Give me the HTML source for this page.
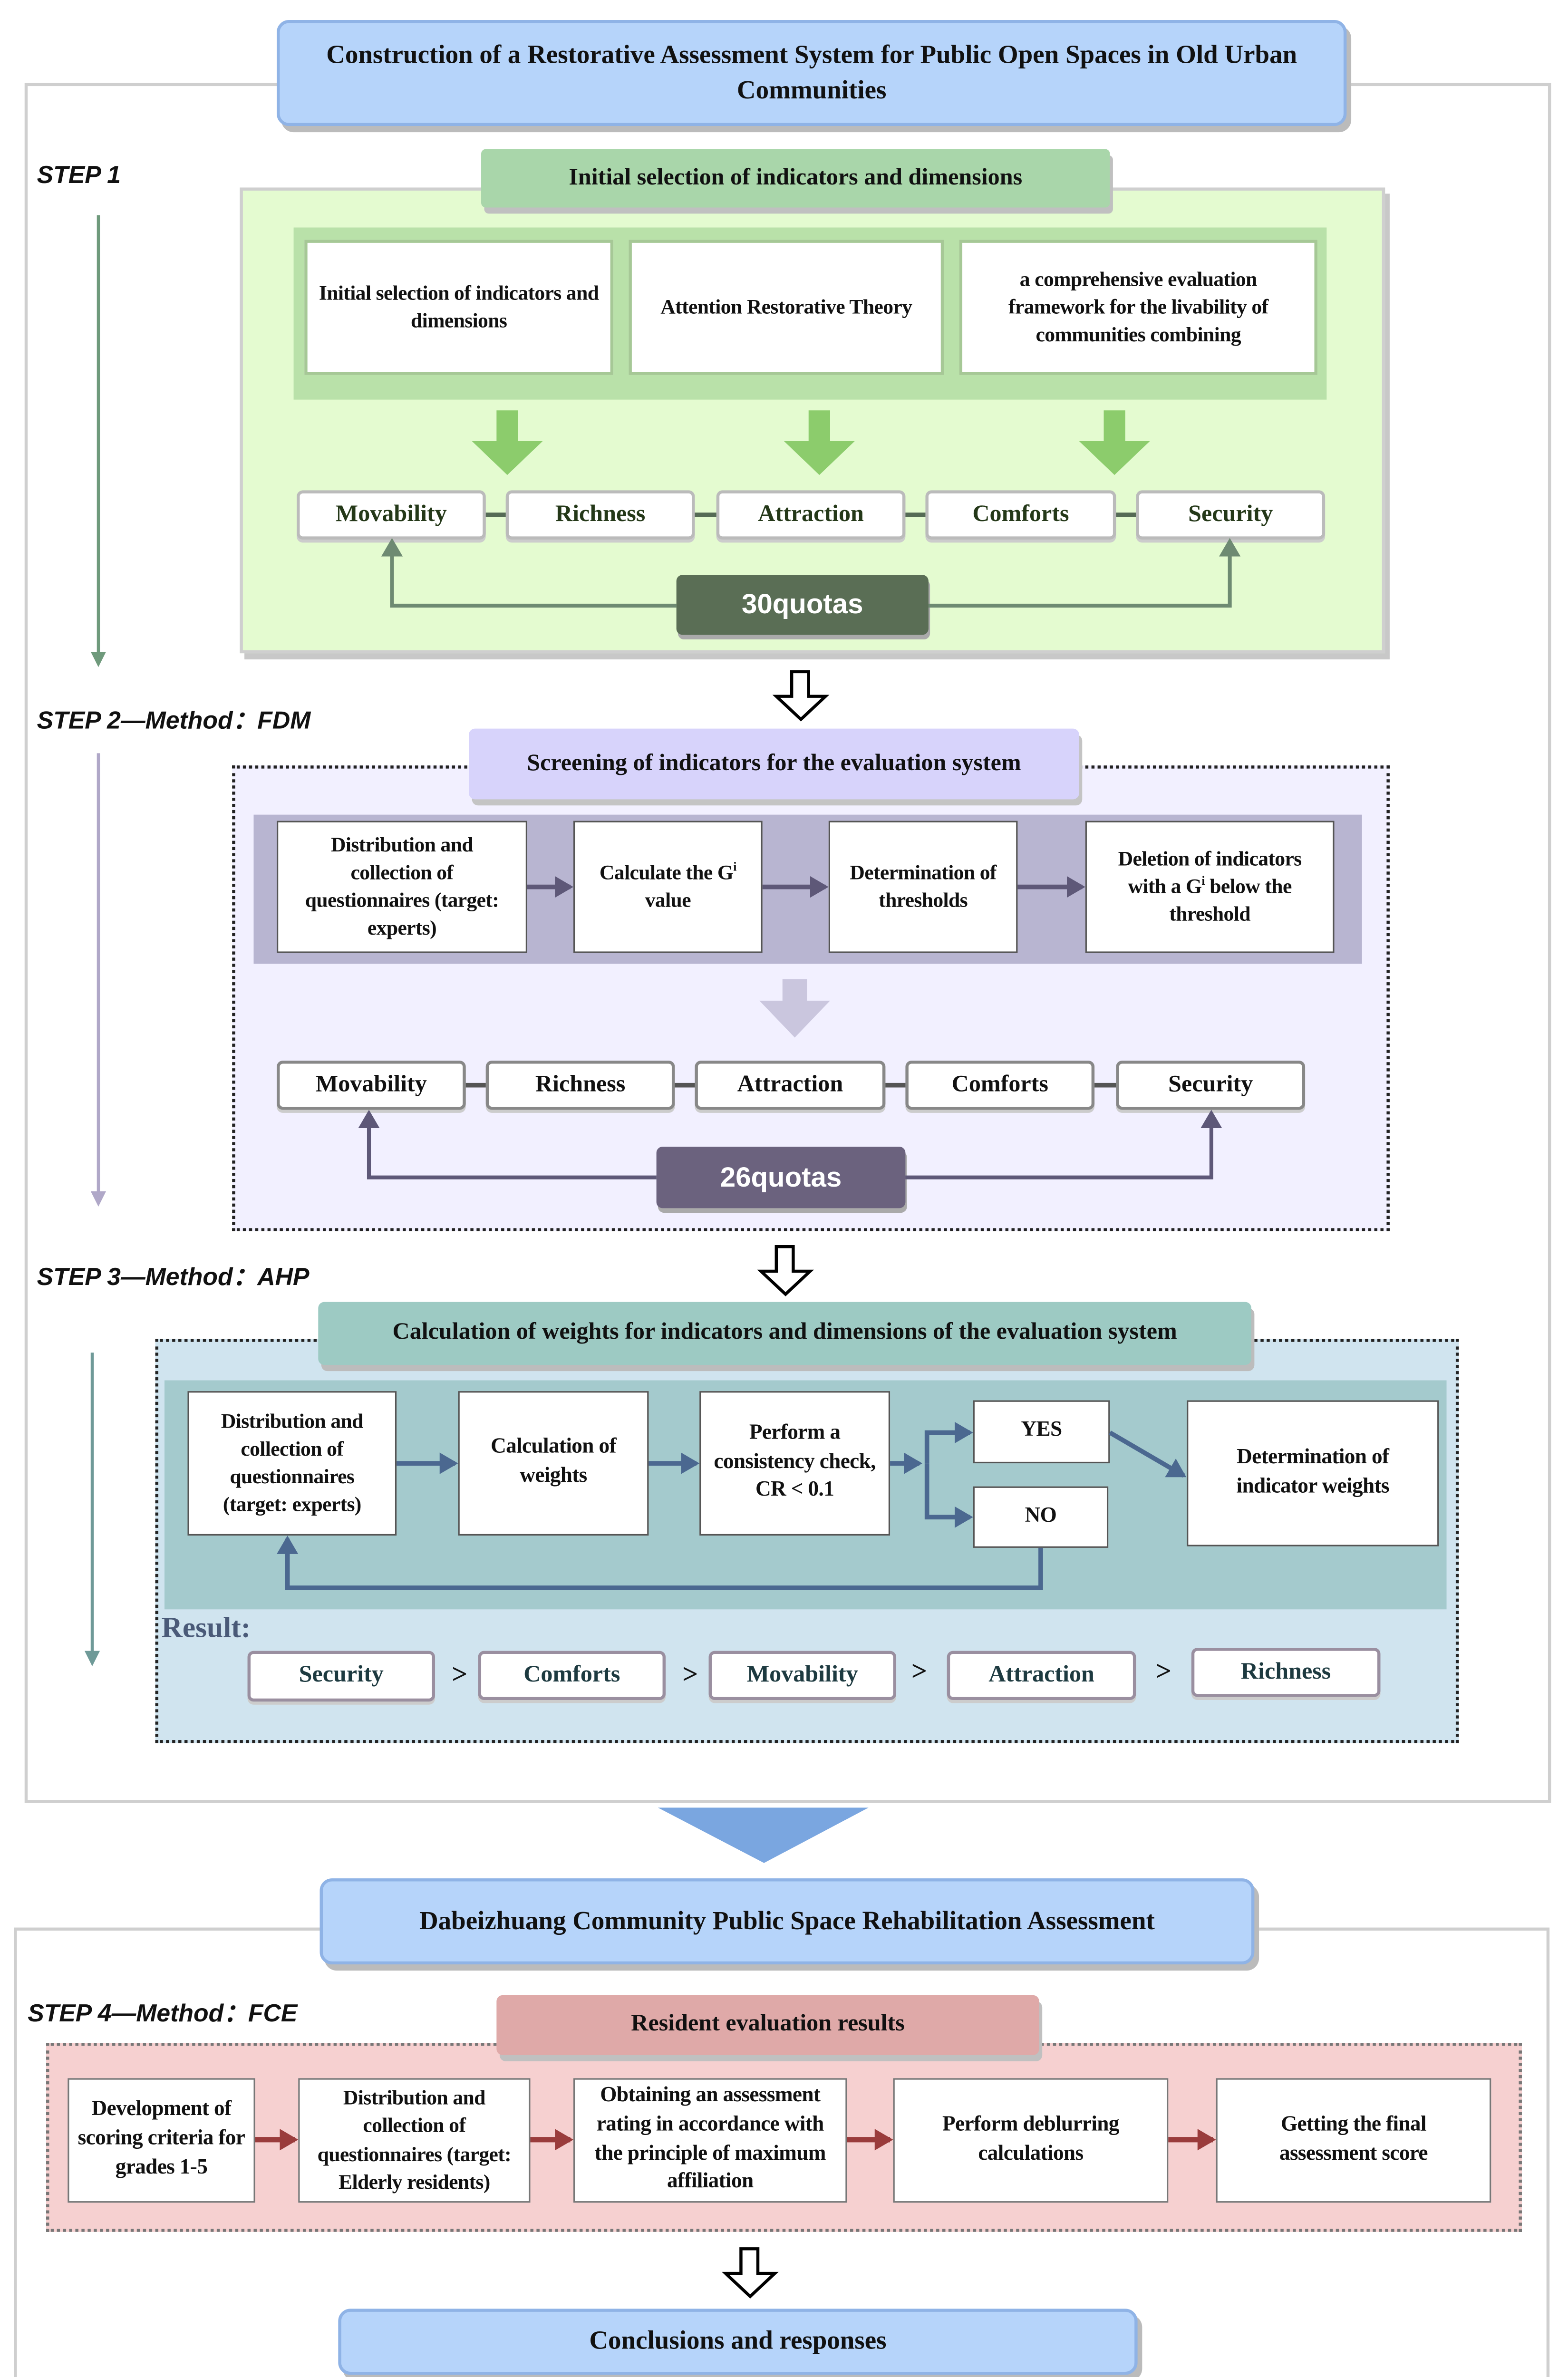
<!DOCTYPE html>
<html><head><meta charset="utf-8"><style>
html{margin:0;padding:0;width:3298px;height:5073px;overflow:hidden;background:#fff;}
body{margin:0;padding:0;width:3298px;height:5073px;overflow:hidden;position:relative;background:#fff;}
#w{position:absolute;left:0;top:0;width:1020px;height:1560px;overflow:hidden;transform:scale(3.2333,3.2333);transform-origin:0 0;}
.a{position:absolute;box-sizing:border-box;}
.b{position:absolute;box-sizing:border-box;display:flex;align-items:center;justify-content:center;text-align:center;font-family:"Liberation Serif",serif;font-weight:bold;color:#111;line-height:1.35;}
.s{font-family:"Liberation Sans",sans-serif;font-weight:bold;font-style:italic;font-size:16px;position:absolute;color:#111;}
.w{background:#fff;font-size:13.5px;letter-spacing:-0.2px;}
.d{background:#fff;border:2px solid #bbb;border-radius:4px;font-size:15.5px;box-shadow:0 2px 0 #ccc;}
sup{font-size:8px;line-height:0;}
</style></head><body><div id="w">
<div class="a" style="left:16px;top:54px;width:993px;height:1119px;border:2px solid #cfcfcf;"></div>
<div class="a" style="left:9px;top:1254px;width:999px;height:304px;border:2px solid #cfcfcf;"></div>

<div class="b" style="left:180px;top:13px;width:696px;height:69px;background:#b6d4fa;border:2px solid #8fb3e6;border-radius:8px;box-shadow:3px 4px 0 #bbb;font-size:17px;padding:0 20px;">Construction of a Restorative Assessment System for Public Open Spaces in Old Urban Communities</div>

<div class="s" style="left:24px;top:106px;">STEP 1</div>
<div class="a" style="left:156px;top:122px;width:745px;height:303px;background:#e4fbd0;border:2px solid #cfcfcf;box-shadow:3px 4px 0 #c8c8c8;"></div>
<div class="b" style="left:313px;top:97px;width:409px;height:38px;background:#a9d6aa;border-radius:3px;box-shadow:2px 4px 0 #c0c0c0;font-size:15.5px;">Initial selection of indicators and dimensions</div>
<div class="a" style="left:191px;top:148px;width:672px;height:112px;background:#b9e1a9;"></div>
<div class="b w" style="left:198px;top:156px;width:201px;height:88px;border:2px solid #a6c896;padding:0 6px;">Initial selection of indicators and dimensions</div>
<div class="b w" style="left:409px;top:156px;width:205px;height:88px;border:2px solid #a6c896;">Attention Restorative Theory</div>
<div class="b w" style="left:624px;top:156px;width:233px;height:88px;border:2px solid #a6c896;padding:0 14px;">a comprehensive evaluation framework for the livability of communities combining</div>

<div class="b d" style="left:193px;top:319px;width:123px;height:32px;color:#243818;">Movability</div>
<div class="b d" style="left:329px;top:319px;width:123px;height:32px;color:#243818;">Richness</div>
<div class="b d" style="left:466px;top:319px;width:123px;height:32px;color:#243818;">Attraction</div>
<div class="b d" style="left:602px;top:319px;width:124px;height:32px;color:#243818;">Comforts</div>
<div class="b d" style="left:739px;top:319px;width:123px;height:32px;color:#243818;">Security</div>
<div class="b" style="left:440px;top:374px;width:164px;height:39px;background:#5a6e55;border-radius:4px;box-shadow:1px 3px 0 #aaa;color:#fff;font-family:'Liberation Sans',sans-serif;font-size:18px;">30quotas</div>

<div class="s" style="left:24px;top:455px;">STEP 2—Method：FDM</div>
<div class="a" style="left:151px;top:498px;width:753px;height:303px;background:#f2f0ff;border:2px dotted #222;"></div>
<div class="b" style="left:305px;top:474px;width:397px;height:46px;background:#d7d3fb;border-radius:4px;box-shadow:2px 4px 0 #c4c4c4;font-size:15.5px;">Screening of indicators for the evaluation system</div>
<div class="a" style="left:165px;top:530px;width:721px;height:97px;background:#b8b5d1;"></div>
<div class="b w" style="left:180px;top:534px;width:163px;height:86px;border:1px solid #555;padding:0 8px;">Distribution and collection of questionnaires (target: experts)</div>
<div class="b w" style="left:373px;top:534px;width:123px;height:86px;border:1px solid #555;padding:0 6px;"><span>Calculate the G<sup>i</sup> value</span></div>
<div class="b w" style="left:539px;top:534px;width:123px;height:86px;border:1px solid #555;">Determination of thresholds</div>
<div class="b w" style="left:706px;top:534px;width:162px;height:86px;border:1px solid #555;padding:0 12px;"><span>Deletion of indicators with a G<sup>i</sup> below the threshold</span></div>
<div class="b d" style="left:180px;top:690px;width:123px;height:32px;border-color:#888;">Movability</div>
<div class="b d" style="left:316px;top:690px;width:123px;height:32px;border-color:#888;">Richness</div>
<div class="b d" style="left:452px;top:690px;width:124px;height:32px;border-color:#888;">Attraction</div>
<div class="b d" style="left:589px;top:690px;width:123px;height:32px;border-color:#888;">Comforts</div>
<div class="b d" style="left:726px;top:690px;width:123px;height:32px;border-color:#888;">Security</div>
<div class="b" style="left:427px;top:746px;width:162px;height:40px;background:#6b627e;border-radius:4px;box-shadow:1px 3px 0 #aaa;color:#fff;font-family:'Liberation Sans',sans-serif;font-size:18px;">26quotas</div>

<div class="s" style="left:24px;top:817px;">STEP 3—Method：AHP</div>
<div class="a" style="left:101px;top:871px;width:848px;height:263px;background:#d0e4ef;border:2px dotted #222;"></div>
<div class="b" style="left:207px;top:847px;width:607px;height:41px;background:#9dcac3;border-radius:4px;box-shadow:2px 4px 0 #bcbcbc;font-size:15.5px;">Calculation of weights for indicators and dimensions of the evaluation system</div>
<div class="a" style="left:107px;top:898px;width:834px;height:149px;background:#a4cacd;"></div>
<div class="b w" style="left:122px;top:905px;width:136px;height:94px;border:1px solid #555;padding:0 8px;">Distribution and collection of questionnaires (target: experts)</div>
<div class="b w" style="left:298px;top:905px;width:124px;height:94px;border:1px solid #555;font-size:14px;padding:0 8px;">Calculation of weights</div>
<div class="b w" style="left:455px;top:905px;width:124px;height:94px;border:1px solid #555;font-size:14px;padding:0 8px;">Perform a consistency check, CR &lt; 0.1</div>
<div class="b w" style="left:633px;top:911px;width:89px;height:41px;border:1px solid #555;font-size:14px;">YES</div>
<div class="b w" style="left:633px;top:967px;width:88px;height:40px;border:1px solid #555;font-size:14px;">NO</div>
<div class="b w" style="left:772px;top:911px;width:164px;height:95px;border:1px solid #555;font-size:14px;padding:0 14px;">Determination of indicator weights</div>
<div class="b" style="left:105px;top:1047px;height:26px;color:#4a5a78;font-size:19px;">Result:</div>
<div class="b d" style="left:161px;top:1074px;width:122px;height:33px;border-color:#9a8fa0;color:#1d3a40;">Security</div>
<div class="b d" style="left:311px;top:1074px;width:122px;height:32px;border-color:#9a8fa0;color:#1d3a40;">Comforts</div>
<div class="b d" style="left:461px;top:1074px;width:122px;height:32px;border-color:#9a8fa0;color:#1d3a40;">Movability</div>
<div class="b d" style="left:616px;top:1074px;width:123px;height:32px;border-color:#9a8fa0;color:#1d3a40;">Attraction</div>
<div class="b d" style="left:775px;top:1072px;width:123px;height:32px;border-color:#9a8fa0;color:#1d3a40;">Richness</div>
<div class="b" style="left:290px;top:1078px;width:18px;height:22px;font-size:18px;">&gt;</div>
<div class="b" style="left:440px;top:1078px;width:18px;height:22px;font-size:18px;">&gt;</div>
<div class="b" style="left:589px;top:1076px;width:18px;height:22px;font-size:18px;">&gt;</div>
<div class="b" style="left:748px;top:1076px;width:18px;height:22px;font-size:18px;">&gt;</div>

<div class="b" style="left:208px;top:1222px;width:608px;height:56px;background:#b6d4fa;border:2px solid #8fb3e6;border-radius:8px;box-shadow:3px 4px 0 #bbb;font-size:17px;">Dabeizhuang Community Public Space Rehabilitation Assessment</div>
<div class="s" style="left:18px;top:1296px;">STEP 4—Method：FCE</div>
<div class="a" style="left:30px;top:1329px;width:960px;height:123px;background:#f6d0d0;border:2px dotted #777;"></div>
<div class="b" style="left:323px;top:1298px;width:353px;height:39px;background:#dfa9a8;border-radius:4px;box-shadow:2px 4px 0 #c0c0c0;font-size:15.5px;">Resident evaluation results</div>
<div class="b w" style="left:44px;top:1352px;width:122px;height:81px;border:1px solid #777;font-size:14px;padding:0 4px;">Development of scoring criteria for grades 1-5</div>
<div class="b w" style="left:194px;top:1352px;width:151px;height:81px;border:1px solid #777;padding:0 2px;">Distribution and collection of questionnaires (target: Elderly residents)</div>
<div class="b w" style="left:373px;top:1352px;width:178px;height:81px;border:1px solid #777;font-size:14px;padding:0 4px;">Obtaining an assessment rating in accordance with the principle of maximum affiliation</div>
<div class="b w" style="left:581px;top:1352px;width:179px;height:81px;border:1px solid #777;font-size:14px;padding:0 16px;">Perform deblurring calculations</div>
<div class="b w" style="left:791px;top:1352px;width:179px;height:81px;border:1px solid #777;font-size:14px;padding:0 26px;">Getting the final assessment score</div>
<div class="b" style="left:220px;top:1502px;width:520px;height:43px;background:#b6d4fa;border:2px solid #8fb3e6;border-radius:8px;box-shadow:3px 4px 0 #bbb;font-size:17px;">Conclusions and responses</div>

<svg class="a" style="left:0;top:0;" width="1020" height="1560" viewBox="0 0 1020 1560">
<defs>
<marker id="mg" markerWidth="10" markerHeight="10" refX="8" refY="5" orient="auto" markerUnits="userSpaceOnUse"><path d="M0,0 L10,5 L0,10 z" fill="#6f9a7c"/></marker>
<marker id="mp" markerWidth="10" markerHeight="10" refX="8" refY="5" orient="auto" markerUnits="userSpaceOnUse"><path d="M0,0 L10,5 L0,10 z" fill="#b0a8c8"/></marker>
<marker id="mt" markerWidth="10" markerHeight="10" refX="8" refY="5" orient="auto" markerUnits="userSpaceOnUse"><path d="M0,0 L10,5 L0,10 z" fill="#6f9a98"/></marker>
<marker id="mg2" markerWidth="12" markerHeight="14" refX="10" refY="7" orient="auto" markerUnits="userSpaceOnUse"><path d="M0,0 L12,7 L0,14 z" fill="#6e8a72"/></marker>
<marker id="md" markerWidth="12" markerHeight="14" refX="10" refY="7" orient="auto" markerUnits="userSpaceOnUse"><path d="M0,0 L12,7 L0,14 z" fill="#5e5878"/></marker>
<marker id="mb" markerWidth="12" markerHeight="14" refX="10" refY="7" orient="auto" markerUnits="userSpaceOnUse"><path d="M0,0 L12,7 L0,14 z" fill="#4b6890"/></marker>
<marker id="mr" markerWidth="12" markerHeight="14" refX="10" refY="7" orient="auto" markerUnits="userSpaceOnUse"><path d="M0,0 L12,7 L0,14 z" fill="#9a3c3c"/></marker>
</defs>
<line x1="64" y1="140" x2="64" y2="432" stroke="#6f9a7c" stroke-width="2" marker-end="url(#mg)"/>
<line x1="64" y1="490" x2="64" y2="783" stroke="#b0a8c8" stroke-width="2" marker-end="url(#mp)"/>
<line x1="60" y1="880" x2="60" y2="1082" stroke="#6f9a98" stroke-width="2" marker-end="url(#mt)"/>
<g fill="#8ccc6c">
<path d="M323,267 h14 v20 h16 l-23,22 l-23,-22 h16z"/>
<path d="M526,267 h14 v20 h16 l-23,22 l-23,-22 h16z"/>
<path d="M718,267 h14 v20 h16 l-23,22 l-23,-22 h16z"/>
</g>
<g stroke="#556b55" stroke-width="3">
<line x1="316" y1="335" x2="329" y2="335"/><line x1="452" y1="335" x2="466" y2="335"/><line x1="589" y1="335" x2="602" y2="335"/><line x1="726" y1="335" x2="739" y2="335"/>
</g>
<polyline points="440,394 255,394 255,352" fill="none" stroke="#6e8a72" stroke-width="2.5" marker-end="url(#mg2)"/>
<polyline points="604,394 800,394 800,352" fill="none" stroke="#6e8a72" stroke-width="2.5" marker-end="url(#mg2)"/>
<g fill="#fff" stroke="#000" stroke-width="2">
<path d="M515,437 h11 v16 h11 l-16,15 l-16,-15 h10z"/>
<path d="M505,811 h11 v16 h11 l-16,15 l-16,-15 h10z"/>
<path d="M482,1463 h11 v16 h11 l-16,15 l-16,-15 h10z"/>
</g>
<g stroke="#5e5878" stroke-width="3">
<line x1="343" y1="577" x2="371" y2="577" marker-end="url(#md)"/>
<line x1="496" y1="577" x2="537" y2="577" marker-end="url(#md)"/>
<line x1="662" y1="577" x2="704" y2="577" marker-end="url(#md)"/>
</g>
<path d="M509,637 h16 v14 h15 l-23,24 l-23,-24 h15z" fill="#cac6de"/>
<g stroke="#555" stroke-width="3">
<line x1="303" y1="706" x2="316" y2="706"/><line x1="439" y1="706" x2="452" y2="706"/><line x1="576" y1="706" x2="589" y2="706"/><line x1="712" y1="706" x2="726" y2="706"/>
</g>
<polyline points="427,766 240,766 240,724" fill="none" stroke="#5e5878" stroke-width="2.5" marker-end="url(#md)"/>
<polyline points="589,766 788,766 788,724" fill="none" stroke="#5e5878" stroke-width="2.5" marker-end="url(#md)"/>
<g stroke="#4b6890" stroke-width="3" fill="none">
<line x1="258" y1="952" x2="296" y2="952" marker-end="url(#mb)"/>
<line x1="422" y1="952" x2="453" y2="952" marker-end="url(#mb)"/>
<line x1="579" y1="952" x2="598" y2="952" marker-end="url(#mb)"/>
<polyline points="603,952 603,932 631,932" marker-end="url(#mb)"/>
<polyline points="603,952 603,987 631,987" marker-end="url(#mb)"/>
<line x1="722" y1="932" x2="770" y2="960" marker-end="url(#mb)"/>
<polyline points="677,1007 677,1033 187,1033 187,1001" marker-end="url(#mb)"/>
</g>
<path d="M428,1176 h137 l-68,36 z" fill="#7aa6e0"/>
<g stroke="#9a3c3c" stroke-width="3.5">
<line x1="166" y1="1392" x2="192" y2="1392" marker-end="url(#mr)"/>
<line x1="345" y1="1392" x2="371" y2="1392" marker-end="url(#mr)"/>
<line x1="551" y1="1392" x2="579" y2="1392" marker-end="url(#mr)"/>
<line x1="760" y1="1392" x2="789" y2="1392" marker-end="url(#mr)"/>
</g>
</svg>
</div></body></html>
